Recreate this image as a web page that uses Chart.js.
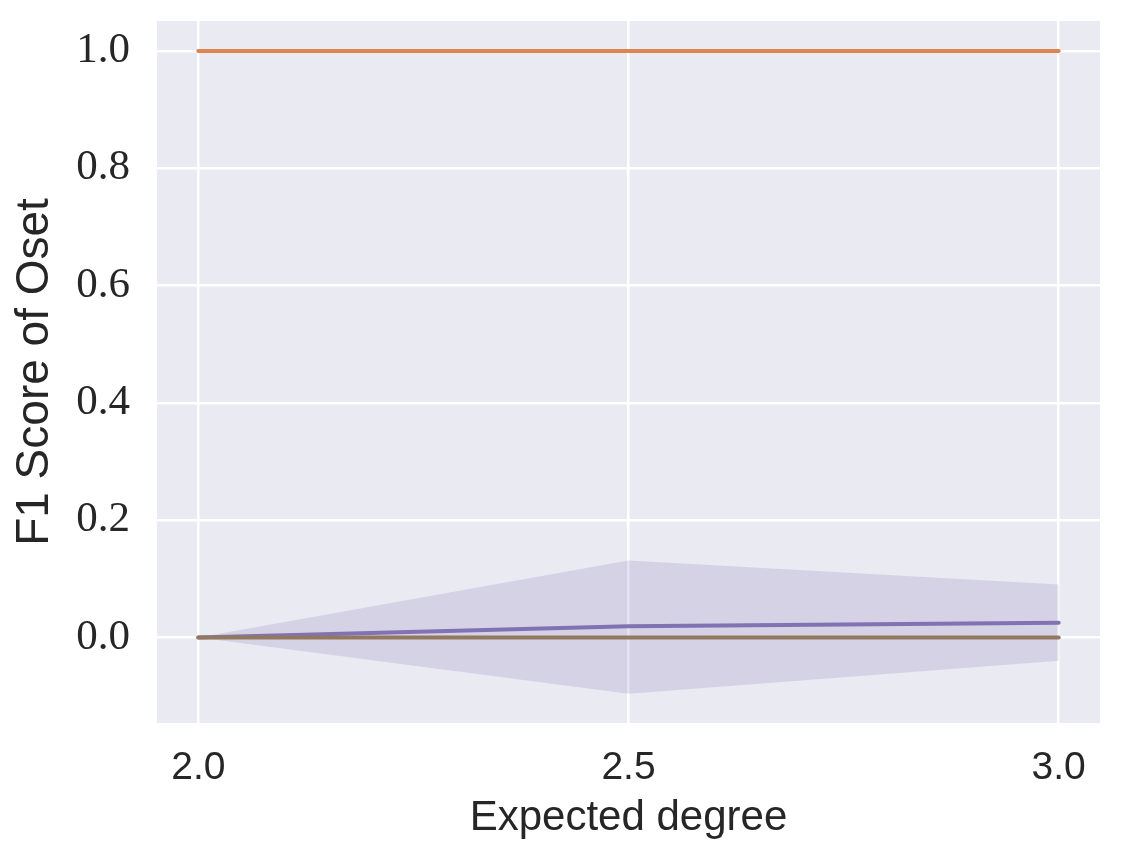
<!DOCTYPE html>
<html>
<head>
<meta charset="utf-8">
<script src="https://cdn.jsdelivr.net/npm/chart.js@4/dist/chart.umd.min.js"></script>
<style>
  body { margin: 0; background: #ffffff; }
  canvas { display: block; }
</style>
</head>
<body>
<canvas id="mycanvas" width="1121" height="866"></canvas>
<script>
// values
var degree = [2.0, 2.5, 3.0];
var orangeF1 = [1.0, 1.0, 1.0];
var purpleF1 = [0.0, 0.019, 0.025];
var purpleHigh = [0.0, 0.131, 0.090];
var purpleLow = [0.0, -0.096, -0.040];
var brownF1 = [0.0, 0.0, 0.0];
var xTicks = [2.0, 2.5, 3.0];
var yTicks = [0.0, 0.2, 0.4, 0.6, 0.8, 1.0];

function pts(ys) {
    var out = [];
    for (var i in degree) {
        out.push({ x: degree[i], y: ys[i] });
    }
    return out;
}

var plotBg = {
    id: 'plotBg',
    beforeDraw: function (chart) {
        var a = chart.chartArea;
        var c = chart.ctx;
        c.save();
        c.fillStyle = '#EAEAF2';
        c.fillRect(a.left, a.top, a.right - a.left, a.bottom - a.top);
        c.restore();
    }
};

var chartdata = {
    datasets: [
        {
            label: "band high",
            data: pts(purpleHigh),
            borderWidth: 0,
            pointRadius: 0,
            backgroundColor: "rgba(129, 114, 179, 0.2)",
            fill: '+1',
            order: 10
        },
        {
            label: "band low",
            data: pts(purpleLow),
            borderWidth: 0,
            pointRadius: 0,
            fill: false,
            order: 11
        },
        {
            label: "purple",
            data: pts(purpleF1),
            borderColor: "#8172B3",
            borderWidth: 4,
            borderCapStyle: 'round',
            pointRadius: 0,
            fill: false,
            order: 3
        },
        {
            label: "brown",
            data: pts(brownF1),
            borderColor: "#937860",
            borderWidth: 4,
            borderCapStyle: 'round',
            pointRadius: 0,
            fill: false,
            order: 2
        },
        {
            label: "orange",
            data: pts(orangeF1),
            borderColor: "#DD8452",
            borderWidth: 4,
            borderCapStyle: 'round',
            pointRadius: 0,
            fill: false,
            order: 1
        }
    ]
};

var ctx = document.getElementById("mycanvas");

var LineGraph = new Chart(ctx, {
    type: 'line',
    data: chartdata,
    plugins: [plotBg],
    options: {
        responsive: false,
        animation: false,
        layout: { padding: { left: 0, right: 21, top: 21, bottom: 0 } },
        plugins: {
            legend: { display: false },
            tooltip: { enabled: false }
        },
        scales: {
            x: {
                type: 'linear',
                min: 1.952,
                max: 3.048,
                afterBuildTicks: function (scale) {
                    scale.ticks = xTicks.map(function (v) { return { value: v }; });
                },
                afterFit: function (scale) {
                    scale.height = 143;
                    scale.paddingLeft = 0;
                    scale.paddingRight = 0;
                },
                border: { display: false },
                grid: { color: '#ffffff', lineWidth: 2.5, drawTicks: false },
                ticks: {
                    padding: 22,
                    color: '#262626',
                    font: { family: 'Liberation Sans', size: 39 },
                    callback: function (v) { return v.toFixed(1); }
                },
                title: {
                    display: true,
                    text: 'Expected degree',
                    color: '#262626',
                    font: { family: 'Liberation Sans', size: 42 },
                    padding: { top: 0, bottom: 22 }
                }
            },
            y: {
                min: -0.146,
                max: 1.051,
                afterBuildTicks: function (scale) {
                    scale.ticks = yTicks.map(function (v) { return { value: v }; });
                },
                afterFit: function (scale) {
                    scale.width = 157;
                    scale.paddingTop = 0;
                    scale.paddingBottom = 0;
                },
                border: { display: false },
                grid: { color: '#ffffff', lineWidth: 2.5, drawTicks: false },
                ticks: {
                    padding: 27,
                    color: '#262626',
                    font: { family: 'Liberation Serif', size: 43 },
                    callback: function (v) { return v.toFixed(1); }
                },
                title: {
                    display: true,
                    text: 'F1 Score of Oset',
                    color: '#262626',
                    font: { family: 'Liberation Sans', size: 46 },
                    padding: { top: 8, bottom: 0 }
                }
            }
        }
    }
});
</script>
</body>
</html>
